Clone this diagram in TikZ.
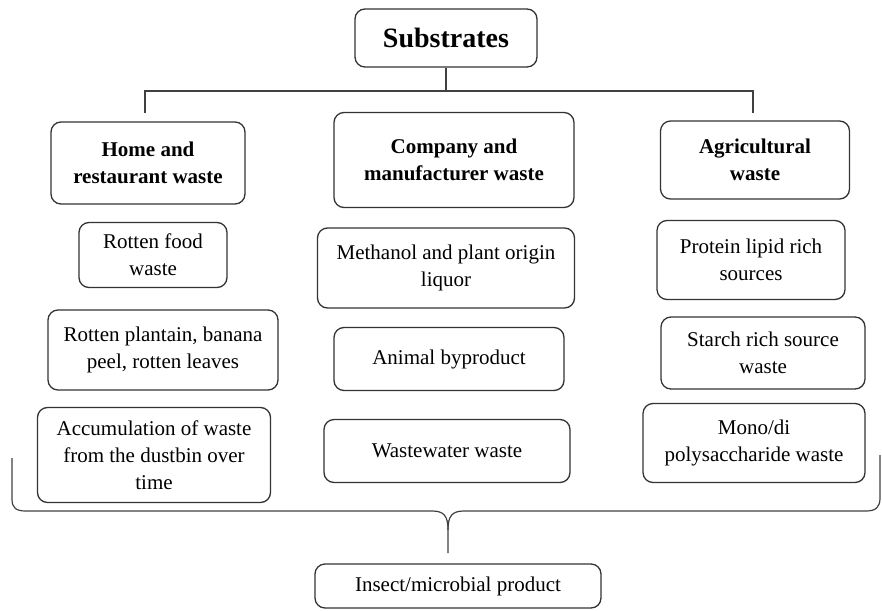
\documentclass[tikz,border=0pt]{standalone}
\usepackage{fontspec}
\setmainfont{Liberation Serif}

\begin{document}
\begin{tikzpicture}[x=1pt,y=-1pt,
        box/.style={draw=black!80, line width=1.3pt, rounded corners=10pt, align=center, inner sep=2pt, font=\fontsize{21}{27}\selectfont},
        head/.style={box, font=\fontsize{21}{27}\selectfont\bfseries},
        link/.style={draw=black!75, line width=1.2pt}]
        % Fix the page to the size of the figure
        \useasboundingbox (0,0) rectangle (882,610);

        % Top box
        \node[box, font=\fontsize{28}{32}\selectfont\bfseries, minimum width=182pt, minimum height=58pt] (sub) at (446,38) {Substrates};

        % The three groups
        \node[head, minimum width=194pt, minimum height=82pt] (home) at (148,163) {Home and\\restaurant waste};
        \node[head, minimum width=240pt, minimum height=95pt] (comp) at (454,160) {Company and\\manufacturer waste};
        \node[head, minimum width=189pt, minimum height=78pt] (agri) at (755,160) {Agricultural\\waste};

        % Left column
        \node[box, minimum width=148pt, minimum height=65pt] (food) at (153,255) {Rotten food\\waste};
        \node[box, minimum width=230pt, minimum height=80pt] (plant) at (163,350) {Rotten plantain, banana\\peel, rotten leaves};
        \node[box, minimum width=233pt, minimum height=95pt] (accum) at (154,455) {Accumulation of waste\\from the dustbin over\\time};

        % Middle column
        \node[box, minimum width=257pt, minimum height=80pt] (meth) at (446,268) {Methanol and plant origin\\liquor};
        \node[box, minimum width=230pt, minimum height=63pt] (animal) at (449,359) {Animal byproduct};
        \node[box, minimum width=246pt, minimum height=63pt] (wastew) at (447,451) {Wastewater waste};

        % Right column
        \node[box, minimum width=188pt, minimum height=79pt] (protein) at (751,260) {Protein lipid rich\\sources};
        \node[box, minimum width=204pt, minimum height=72pt] (starch) at (763,353) {Starch rich source\\waste};
        \node[box, minimum width=222pt, minimum height=79pt] (mono) at (754,443) {Mono/di\\polysaccharide waste};

        % Bottom box
        \node[box, minimum width=286pt, minimum height=44pt] (insect) at (458,586) {Insect/microbial product};

        % Bracket under the top box
        \coordinate (hj) at (446,91);
        \coordinate (bl) at (145,113);
        \coordinate (br) at (753,113);
        \draw[link] (sub.south) -- (hj);
        \draw[link] (bl) |- (hj) -| (br);

        % Brace over the bottom box
        \coordinate (bleft) at (12,458);
        \coordinate (bright) at (880,455);
        \coordinate (btip) at (448,553);
        \draw[link] (bleft) -- (12,499) .. controls (12,508) and (16,511) .. (26,511) -- (432,511) .. controls (444,511) and (448,516) .. (448,530) -- (btip);
        \draw[link] (448,530) .. controls (448,516) and (452,511) .. (464,511) -- (866,511) .. controls (876,511) and (880,507) .. (880,498) -- (bright);
\end{tikzpicture}
\end{document}
